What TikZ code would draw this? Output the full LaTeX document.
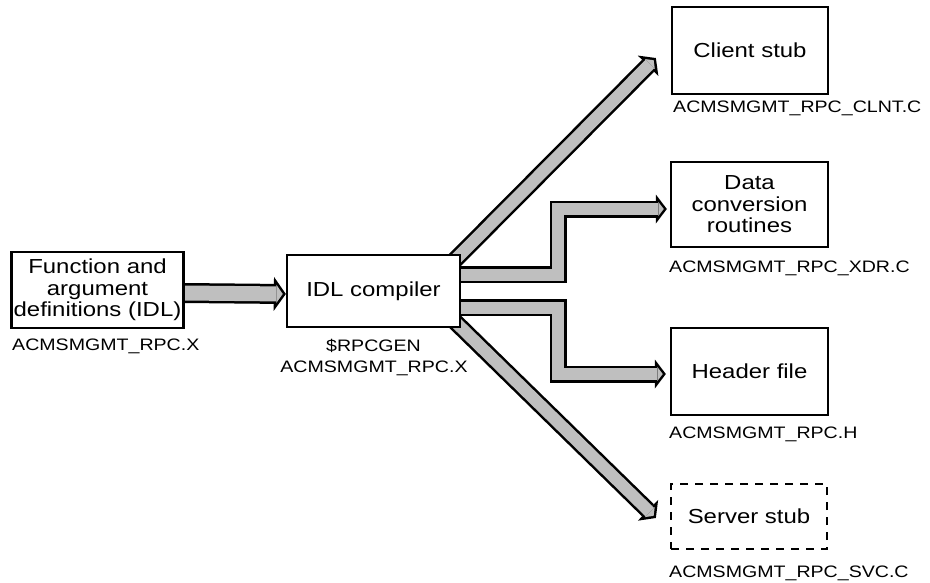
\documentclass[tikz,border=0pt]{standalone}
\usepackage{fontspec}
\setmainfont{Liberation Sans}[FakeStretch=1.18]
\usetikzlibrary{arrows.meta,calc,positioning}

\pgfdeclarelayer{background}
\pgfsetlayers{background,main}

\tikzset{
  box/.style={draw, line width=2.3pt, fill=white, align=center, inner sep=2pt,
    font=\fontsize{20.3}{21.5}\selectfont},
  file/.style={inner sep=0pt, font=\fontsize{16.6}{20}\selectfont},
  % outline and core of the broad grey arrows
  fatout/.style={line width=17pt, draw=black, line join=miter,
    -{Triangle[length=11pt,width=29pt,line width=0pt]}},
  fatin/.style={line width=12pt, draw=gray!50, line join=miter, shorten >=3.1pt,
    -{Triangle[length=5.4pt,width=14.1pt,line width=0pt]}},
  fatoutwide/.style={line width=20pt, draw=black, line join=miter,
    -{Triangle[length=12pt,width=34pt,line width=0pt]}},
  fatinwide/.style={line width=15pt, draw=gray!50, line join=miter, shorten >=3.1pt,
    -{Triangle[length=6.4pt,width=18.2pt,line width=0pt]}},
}

\newcommand{\fatarrow}[2][]{%
  \draw[fatout#1] #2;
  \draw[fatin#1] #2;}

\begin{document}
\begin{tikzpicture}[x=1pt,y=-1pt]

    \useasboundingbox (0,0) rectangle (930,582);

    % Source and compiler boxes
    \node[box, minimum width=171pt, minimum height=76pt] (func) at (97.5,290) {Function and\\argument\\definitions (IDL)};
    \node[box, minimum width=173pt, minimum height=72pt] (idl) at (373.5,291) {IDL compiler};

    % Generated files
    \node[box, minimum width=156pt, minimum height=87pt] (client) at (750,50.5) {Client stub};
    \node[box, minimum width=157pt, minimum height=85pt] (data) at (749.5,204.5) {Data\\conversion\\routines};
    \node[box, minimum width=157pt, minimum height=87pt] (header) at (749.5,371.5) {Header file};
    \node[box, dash pattern=on 8pt off 7pt, minimum width=156pt, minimum height=65pt] (server) at (749,516.5) {Server stub};

    % File names under the boxes
    \node[file, anchor=base west] (funcfile) at (12,350) {ACMSMGMT\_RPC.X};
    \node[file, anchor=base] (rpcgen) at (373.5,351) {\$RPCGEN};
    \node[file, anchor=base] (idlfile) at (374,372) {ACMSMGMT\_RPC.X};
    \node[file, anchor=base west] (clntfile) at (673,112) {ACMSMGMT\_RPC\_CLNT.C};
    \node[file, anchor=base west] (xdrfile) at (669,272) {ACMSMGMT\_RPC\_XDR.C};
    \node[file, anchor=base west] (hfile) at (669,438) {ACMSMGMT\_RPC.H};
    \node[file, anchor=base west] (svcfile) at (669,577) {ACMSMGMT\_RPC\_SVC.C};

    % Broad arrows, behind the boxes
    \begin{pgfonlayer}{background}
    \fatarrow[wide]{([yshift=-3pt]func.east) -- ([yshift=-3pt]idl.west)}
    \fatarrow{($(idl.north east)+(-22,22)$) -- ($(client.west)+(-15,7.5)$)}
    \fatarrow{($(idl.east)+(-10,-16.5)$) -- ++(107,0) |- ($(data.west)+(-3,4.5)$)}
    \fatarrow{($(idl.east)+(-10,16.5)$) -- ++(107,0) |- ($(header.west)+(-4,2.5)$)}
    \fatarrow{($(idl.south east)+(-22,-22)$) -- ($(server.west)+(-14,1.5)$)}
    \end{pgfonlayer}

\end{tikzpicture}
\end{document}
